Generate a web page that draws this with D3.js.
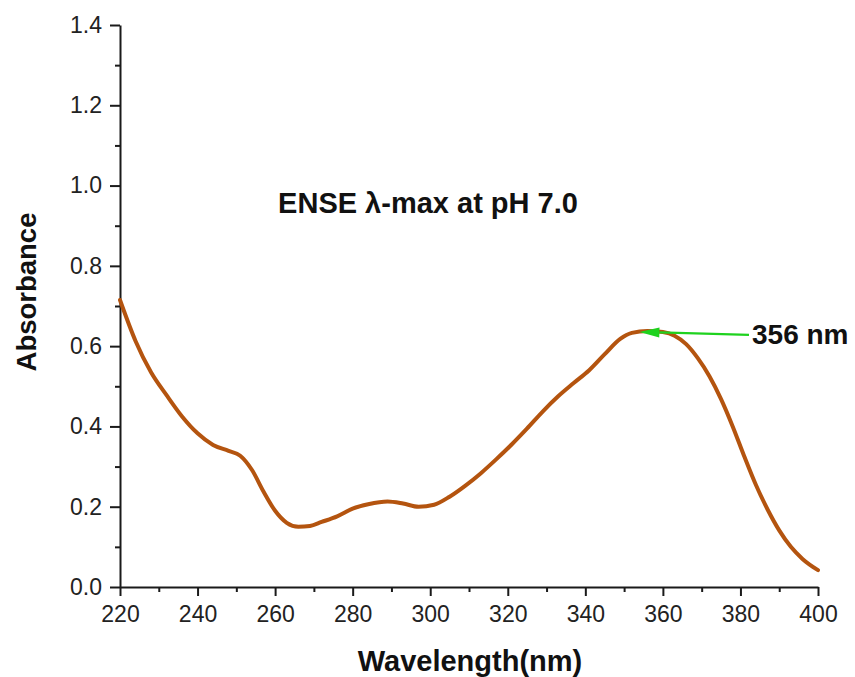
<!DOCTYPE html>
<html>
<head>
<meta charset="utf-8">
<script src="https://cdn.jsdelivr.net/npm/d3@7"></script>
<style>
  html, body { margin: 0; padding: 0; background: #fff; }
  svg { display: block; font-family: Arial, "Liberation Sans", sans-serif; }
</style>
</head>
<body>
<svg id="chart" width="855" height="677"></svg>
<script>
// UV-Vis absorption spectrum of ENSE at pH 7.0
const wavelength = [220, 224, 228, 232, 236, 240, 244, 248, 251, 254, 257, 260, 263, 266, 269, 272,
  276, 280, 284, 289, 293, 297, 301, 305, 309, 313, 317, 321, 325, 329, 333, 337, 341, 345,
  349, 352, 356, 360, 363, 366, 369, 372, 375, 378, 381, 384, 387, 390, 393, 396, 400];
const absorbance = [0.715, 0.613, 0.535, 0.478, 0.425, 0.383, 0.354, 0.339, 0.327, 0.292, 0.238, 0.190,
  0.160, 0.150, 0.152, 0.162, 0.176, 0.195, 0.206, 0.213, 0.208, 0.200, 0.205, 0.225, 0.252,
  0.283, 0.318, 0.355, 0.395, 0.437, 0.475, 0.508, 0.540, 0.580, 0.618, 0.633, 0.638, 0.635,
  0.626, 0.605, 0.570, 0.525, 0.468, 0.400, 0.325, 0.254, 0.193, 0.141, 0.100, 0.070, 0.042];

const xTicks = [220, 240, 260, 280, 300, 320, 340, 360, 380, 400];
const xMinorTicks = [230, 250, 270, 290, 310, 330, 350, 370, 390];
const yTicks = [0.0, 0.2, 0.4, 0.6, 0.8, 1.0, 1.2, 1.4];
const yMinorTicks = [0.1, 0.3, 0.5, 0.7, 0.9, 1.1, 1.3];

const titleText = "ENSE \u03bb-max at pH 7.0";
const peakLabel = "356 nm";
const peakWavelength = 356;
const peakAbsorbance = 0.638;

const svg = d3.select("#chart");
const plotLeft = 120, plotRight = 818, plotTop = 25, plotBottom = 587;

const x = d3.scaleLinear().domain([220, 400]).range([plotLeft, plotRight]);
const y = d3.scaleLinear().domain([0, 1.4]).range([plotBottom, plotTop]);

const axisColor = "#1a1a1a";

// Minor ticks first so the major axis sits on top
const xMinor = svg.append("g").attr("transform", `translate(0,${plotBottom})`)
  .call(d3.axisBottom(x).tickValues(xMinorTicks).tickSize(5).tickFormat(""));
const yMinor = svg.append("g").attr("transform", `translate(${plotLeft},0)`)
  .call(d3.axisLeft(y).tickValues(yMinorTicks).tickSize(5).tickFormat(""));

const xAxis = svg.append("g").attr("transform", `translate(0,${plotBottom})`)
  .call(d3.axisBottom(x).tickValues(xTicks).tickSize(9).tickPadding(10).tickSizeOuter(0).tickFormat(d3.format("d")));
const yAxis = svg.append("g").attr("transform", `translate(${plotLeft},0)`)
  .call(d3.axisLeft(y).tickValues(yTicks).tickSize(10).tickPadding(8).tickSizeOuter(0).tickFormat(d3.format(".1f")));

[xMinor, yMinor, xAxis, yAxis].forEach(g => {
  g.selectAll("path.domain").attr("stroke", axisColor).attr("stroke-width", 2);
  g.selectAll(".tick line").attr("stroke", axisColor).attr("stroke-width", 2);
});
[xMinor, yMinor].forEach(g => g.select("path.domain").remove());
[xAxis, yAxis].forEach(g => g.selectAll(".tick text")
  .attr("fill", "#222").attr("font-size", 23).attr("font-family", "Arial, 'Liberation Sans', sans-serif"));

// Spectrum line
const line = d3.line()
  .x((d, i) => x(wavelength[i]))
  .y(d => y(d))
  .curve(d3.curveMonotoneX);

svg.append("path")
  .datum(absorbance)
  .attr("d", line)
  .attr("fill", "none")
  .attr("stroke", "#b4540f")
  .attr("stroke-width", 4)
  .attr("stroke-linejoin", "round")
  .attr("stroke-linecap", "round");

// Axis titles
svg.append("text")
  .attr("x", 470)
  .attr("y", 671)
  .attr("text-anchor", "middle")
  .attr("font-size", 29)
  .attr("font-weight", "bold")
  .attr("fill", "#111")
  .text("Wavelength(nm)");

svg.append("text")
  .attr("transform", "translate(36,292) rotate(-90)")
  .attr("text-anchor", "middle")
  .attr("font-size", 27.5)
  .attr("font-weight", "bold")
  .attr("fill", "#111")
  .text("Absorbance");

// In-plot title
svg.append("text")
  .attr("x", 428)
  .attr("y", 213)
  .attr("text-anchor", "middle")
  .attr("font-size", 29)
  .attr("font-weight", "bold")
  .attr("fill", "#111")
  .text(titleText);

// Peak annotation: green arrow pointing at the absorption maximum
const tipX = x(peakWavelength) - 8, tipY = y(peakAbsorbance) + 1;
const tailX = 749, tailY = tipY + 3;
const green = "#1ed21e";
const ang = Math.atan2(tailY - tipY, tailX - tipX);
const headLen = 20, headHalf = 5;
const bx = tipX + headLen * Math.cos(ang), by = tipY + headLen * Math.sin(ang);
svg.append("line")
  .attr("x1", bx).attr("y1", by).attr("x2", tailX).attr("y2", tailY)
  .attr("stroke", green).attr("stroke-width", 2.2);
svg.append("path")
  .attr("d", `M${tipX},${tipY} L${bx - headHalf * Math.sin(ang)},${by + headHalf * Math.cos(ang)} L${bx + headHalf * Math.sin(ang)},${by - headHalf * Math.cos(ang)} Z`)
  .attr("fill", green);

svg.append("text")
  .attr("x", 752)
  .attr("y", 344)
  .attr("font-size", 28)
  .attr("font-weight", "bold")
  .attr("fill", "#111")
  .text(peakLabel);
</script>
</body>
</html>
